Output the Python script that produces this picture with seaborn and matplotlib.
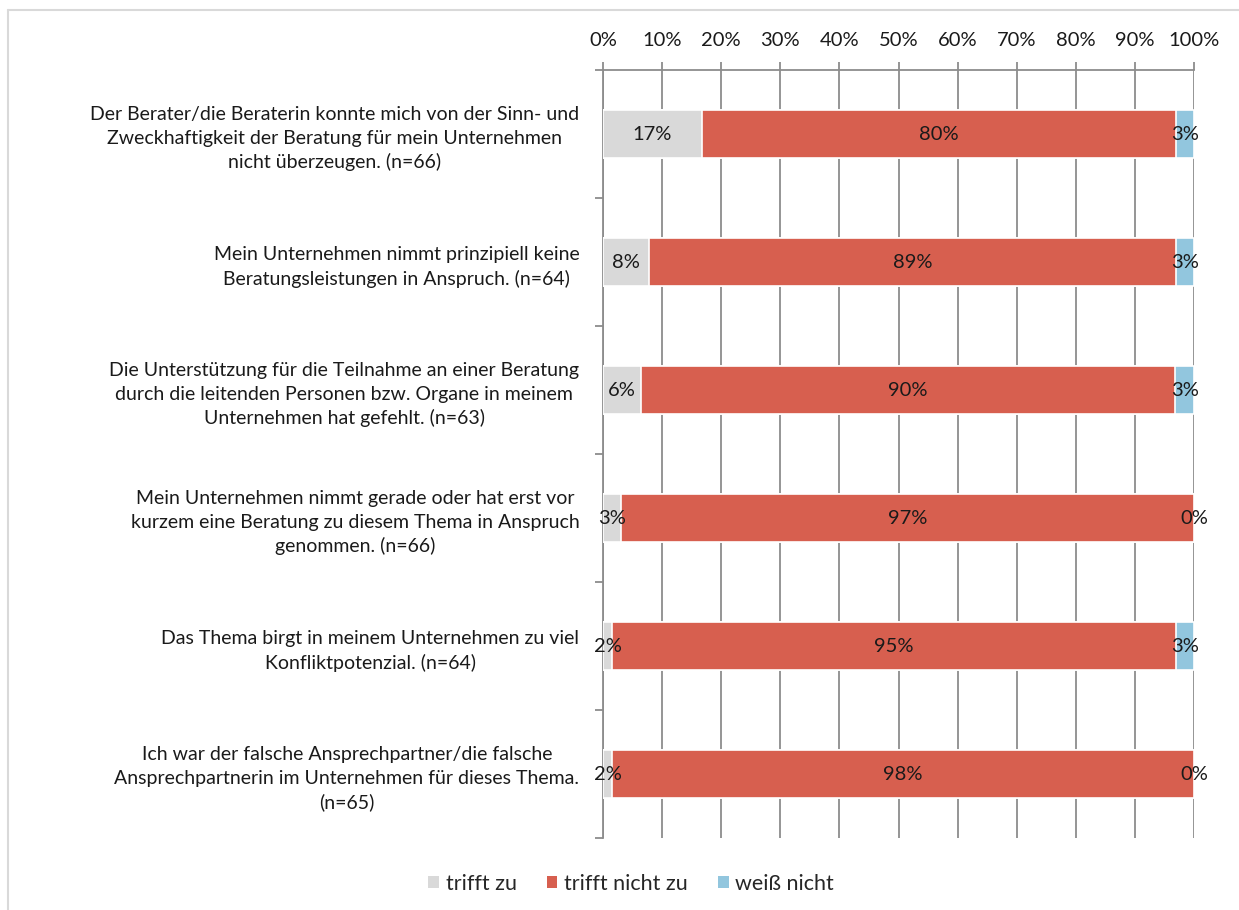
import matplotlib
matplotlib.use("Agg")
import matplotlib.pyplot as plt
import seaborn as sns
import pandas as pd
import numpy as np
from matplotlib.patches import Patch
from matplotlib.lines import Line2D

categories = [
    "Der Berater/die Beraterin konnte mich von der Sinn- und\nZweckhaftigkeit der Beratung für mein Unternehmen\nnicht überzeugen. (n=66)",
    "Mein Unternehmen nimmt prinzipiell keine\nBeratungsleistungen in Anspruch. (n=64)",
    "Die Unterstützung für die Teilnahme an einer Beratung\ndurch die leitenden Personen bzw. Organe in meinem\nUnternehmen hat gefehlt. (n=63)",
    "Mein Unternehmen nimmt gerade oder hat erst vor\nkurzem eine Beratung zu diesem Thema in Anspruch\ngenommen. (n=66)",
    "Das Thema birgt in meinem Unternehmen zu viel\nKonfliktpotenzial. (n=64)",
    "Ich war der falsche Ansprechpartner/die falsche\nAnsprechpartnerin im Unternehmen für dieses Thema.\n(n=65)",
]
trifft_zu = [16.67, 7.81, 6.35, 3.03, 1.56, 1.54]
trifft_nicht_zu = [80.30, 89.06, 90.48, 96.97, 95.31, 98.46]
weiss_nicht = [3.03, 3.13, 3.17, 0.00, 3.13, 0.00]
series_names = ["trifft zu", "trifft nicht zu", "weiß nicht"]
colors = ["#D9D9D9", "#D75F4F", "#92C6DE"]
xticks = [0, 10, 20, 30, 40, 50, 60, 70, 80, 90, 100]

sns.set_theme(style="white")
plt.rcParams["font.family"] = ["Lato", "DejaVu Sans"]

df = pd.DataFrame({"cat": categories, series_names[0]: trifft_zu,
                   series_names[1]: trifft_nicht_zu, series_names[2]: weiss_nicht})
vals = df[series_names].values
cums = np.cumsum(vals, axis=1)
lefts = cums - vals

fig = plt.figure(figsize=(12.39, 9.10), dpi=100)
ax = fig.add_axes([603 / 1239, 1 - 838 / 910, 591 / 1239, 768 / 910])

# stacked bars: draw cumulative totals from the outermost segment inward
for j in reversed(range(len(series_names))):
    sns.barplot(x=cums[:, j], y=df["cat"], orient="h", color=colors[j], saturation=1,
                width=0.375, edgecolor="white", linewidth=1.2, ax=ax, zorder=3)

ypos = np.arange(len(categories))
for j in range(len(series_names)):
    for y in ypos:
        v = vals[y, j]
        ax.text(lefts[y, j] + v / 2, y, f"{v:.0f}%", ha="center", va="center",
                fontsize=14.5, color="#1a1a1a", zorder=5)

ax.set_xlim(0, 100)
ax.set_ylim(len(categories) - 0.5, -0.5)
ax.set_yticks(ypos)
ax.set_yticklabels(categories, fontsize=14, multialignment="center", color="#1a1a1a",
                   linespacing=1.45)
ax.set_yticks(np.arange(len(categories) + 1) - 0.5, minor=True)
ax.tick_params(axis="y", which="major", length=0, pad=17)
ax.tick_params(axis="y", which="minor", length=6, width=1.3, color="#8c8c8c", direction="out", left=True)

ax.xaxis.tick_top()
ax.set_xticks(xticks)
ax.set_xticklabels([f"{t}%" for t in xticks], fontsize=14.5, color="#1a1a1a")
ax.tick_params(axis="x", which="major", length=6, width=1.3, color="#8c8c8c", direction="out", pad=9, top=True)
ax.grid(axis="x", color="#8c8c8c", linewidth=1.3, zorder=0)
ax.set_axisbelow(True)
ax.set_xlabel("")
ax.set_ylabel("")

for s in ["right", "bottom"]:
    ax.spines[s].set_visible(False)
for s in ["left", "top"]:
    ax.spines[s].set_color("#8c8c8c")
    ax.spines[s].set_linewidth(1.3)

handles = [Patch(facecolor=c, edgecolor="none", label=n) for n, c in zip(series_names, colors)]
fig.legend(handles=handles, loc="center", bbox_to_anchor=(631 / 1239, 1 - 884 / 910),
           ncol=3, frameon=False, fontsize=15.5, handlelength=0.5, handleheight=0.5,
           handletextpad=0.3, columnspacing=1.4)

# outer border (left and top)
fig.add_artist(Line2D([8 / 1239, 8 / 1239], [0, 1 - 10 / 910], transform=fig.transFigure,
                      color="#d9d9d9", linewidth=1.5))
fig.add_artist(Line2D([8 / 1239, 1], [1 - 10 / 910, 1 - 10 / 910], transform=fig.transFigure,
                      color="#d9d9d9", linewidth=1.5))

fig.savefig("out.png", dpi=100)
